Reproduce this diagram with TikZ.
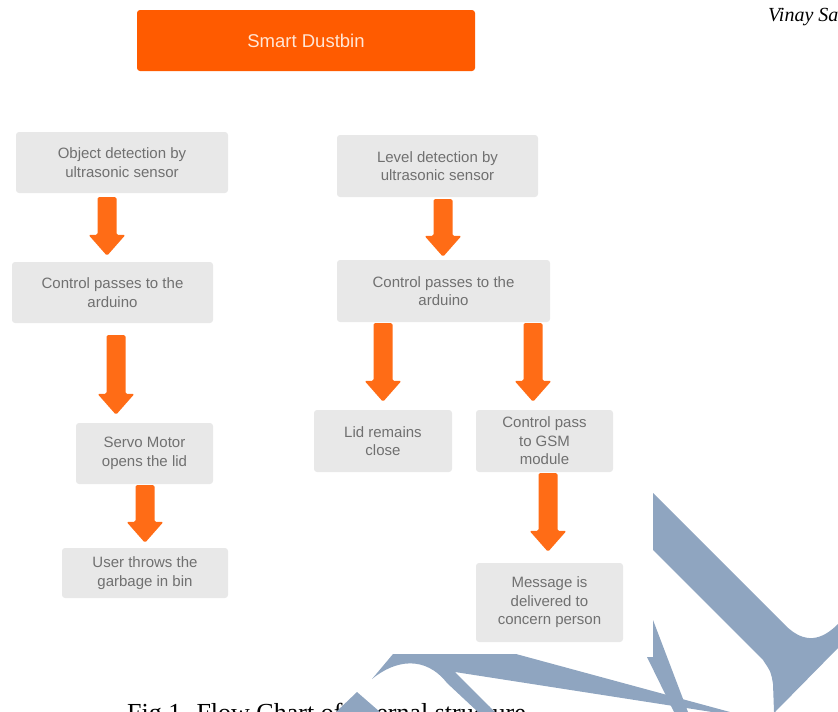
\documentclass[tikz,border=0pt]{standalone}
\usepackage{fontspec}
\setmainfont{Liberation Serif}
\setsansfont{Liberation Sans}
\usepackage{xcolor}
\usetikzlibrary{calc}
\definecolor{titleorange}{RGB}{255,91,0}
\definecolor{titletext}{RGB}{255,230,214}
\definecolor{arrowc}{RGB}{255,108,22}
\definecolor{boxgray}{RGB}{232,232,232}
\definecolor{boxtext}{RGB}{112,112,112}
\definecolor{wmblue}{RGB}{143,165,192}
% block arrow: x from the start point, tip at the y of the end point
\newcommand{\flowarrow}[2]{%
  \fill[arrowc, rounded corners=1.5pt] let \p1=(#1), \p2=(#2) in
    (\x1-9.5pt,\y1) -- (\x1+9.5pt,\y1) -- (\x1+9.5pt,\y2+21pt)
    -- (\x1+18.5pt,\y2+21pt) -- (\x1,\y2) -- (\x1-18.5pt,\y2+21pt)
    -- (\x1-9.5pt,\y2+21pt) -- cycle;}

\begin{document}
\begin{tikzpicture}[x=1pt,y=-1pt,
  procbox/.style={fill=boxgray, rounded corners=3pt, align=center,
    text=boxtext, inner sep=0pt, font=\sffamily\fontsize{15}{18.5}\selectfont},
  titlebox/.style={fill=titleorange, rounded corners=3pt, text=titletext,
    font=\sffamily\fontsize{18.5}{22}\selectfont}]
  \useasboundingbox (0,0) rectangle (838,712);
  \clip (0,0) rectangle (838,712);
  \node[titlebox, minimum width=338pt, minimum height=61pt] (title) at (306,40.5) {Smart Dustbin};
  \node[anchor=base west, inner sep=0pt, font=\itshape\fontsize{20}{24}\selectfont] (author) at (768,21) {Vinay Sa};
  % object side
  \node[procbox, minimum width=212pt, minimum height=61pt] (objdet) at (122,162.5) {Object detection by\\ultrasonic sensor};
  \node[procbox, minimum width=201pt, minimum height=61pt] (ctrlL) at (112.5,292.5) {Control passes to the\\arduino};
  \node[procbox, minimum width=137pt, minimum height=61pt] (servo) at (144.5,453.5) {Servo Motor\\opens the lid};
  \node[procbox, minimum width=166pt, minimum height=50pt] (user) at (145,573) {User throws the\\garbage in bin};
  % level side
  \node[procbox, minimum width=201pt, minimum height=62pt] (lvldet) at (437.5,166) {Level detection by\\ultrasonic sensor};
  \node[procbox, minimum width=213pt, minimum height=62pt] (ctrlR) at (443.5,291) {Control passes to the\\arduino};
  \node[procbox, minimum width=138pt, minimum height=62pt] (lid) at (383,441) {Lid remains\\close};
  \node[procbox, minimum width=137pt, minimum height=62pt] (gsm) at (544.5,441) {Control pass\\to GSM\\module};
  \node[procbox, minimum width=147pt, minimum height=79pt] (msg) at (549.5,602.5) {Message is\\delivered to\\concern person};
  \flowarrow{$(objdet.south)+(-15,4)$}{$(ctrlL.north)+(0,-6)$}
  \flowarrow{$(ctrlL.south)+(3.5,12)$}{$(servo.north)+(0,-8)$}
  \flowarrow{$(servo.south)+(0.5,1)$}{$(user.north)+(0,-5)$}
  \flowarrow{$(lvldet.south)+(5.5,2)$}{$(ctrlR.north)+(0,-3)$}
  \flowarrow{$(ctrlR.south)+(-60.5,1)$}{$(lid.north)+(0,-8)$}
  \flowarrow{$(ctrlR.south)+(89.5,1)$}{$(gsm.north)+(0,-8)$}
  \flowarrow{$(gsm.south)+(3.5,1)$}{$(msg.north)+(0,-11)$}
  \node[anchor=base west, inner sep=0pt, font=\fontsize{26}{30}\selectfont] (caption) at (127,721) {Fig 1. Flow Chart of internal structure};
  % watermark pieces
  \fill[wmblue] (653,493) -- (785,625) .. controls (805,645) and (822,640) .. (838,624)
    -- (838,648) -- (775,712) -- (774,712) -- (773,684) .. controls (771,672) .. (763,660)
    -- (653,550) -- cycle;
  \fill[wmblue] (653,620) -- (688,712) -- (674,712) -- (647,657) -- (653,657) -- cycle;
  \fill[wmblue] (372,679) -- (393,654) -- (516,654) -- (730,712) -- (712,712) -- (455,672)
    -- (495,712) -- (478,712) -- (447,683) .. controls (425,655) and (395,660) .. (372,679) -- cycle;
  \fill[wmblue] (357,692) -- (380,712) -- (336,712) -- cycle;
\end{tikzpicture}
\end{document}
